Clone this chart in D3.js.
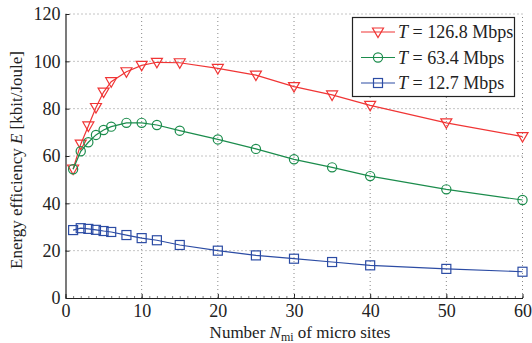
<!DOCTYPE html>
<html>
<head>
<meta charset="utf-8">
<script src="https://cdn.jsdelivr.net/npm/d3@7"></script>
<style>
  body { margin: 0; background: #fff; }
</style>
</head>
<body>
<div id="main"></div>
<script>
// number of micro sites
const sites = [1, 2, 3, 4, 5, 6, 8, 10, 12, 15, 20, 25, 30, 35, 40, 50, 60];
// energy efficiency, kbit/Joule
const eff126 = [54.5, 65, 72.7, 80.5, 87, 91.4, 95.6, 98.3, 99.6, 99.4, 97, 94.2, 89.3, 85.8, 81.4, 74, 68.2];
const eff63 = [54.4, 62, 65.8, 68.9, 71, 72.4, 74, 74, 73.1, 70.7, 67, 63, 58.6, 55.2, 51.5, 45.9, 41.4];
const eff12 = [28.7, 29.5, 29.2, 28.8, 28.3, 27.9, 26.6, 25.3, 24.4, 22.4, 20, 18, 16.6, 15.2, 13.8, 12.3, 11.1];
const seriesNames = ['126.8', '63.4', '12.7'];
const xTicks = [0, 10, 20, 30, 40, 50, 60];
const yTicks = [0, 20, 40, 60, 80, 100, 120];

const font = 'Liberation Serif';
const width = 532, height = 343;
const margin = {left: 65.5, right: 9.5, top: 14, bottom: 45};

const svg = d3.select('#main').append('svg')
    .attr('width', width)
    .attr('height', height);

const x = d3.scaleLinear().domain([0, 60]).range([margin.left, width - margin.right]);
const y = d3.scaleLinear().domain([0, 120]).range([height - margin.bottom, margin.top]);

// dotted grid
const grid = svg.append('g');
grid.selectAll('line.gx')
    .data(xTicks.slice(1))
    .enter().append('line')
    .attr('x1', d => x(d)).attr('x2', d => x(d))
    .attr('y1', y(0)).attr('y2', y(120))
    .attr('stroke', '#888').attr('stroke-width', 1)
    .attr('stroke-dasharray', '1,3');
grid.selectAll('line.gy')
    .data(yTicks.slice(1))
    .enter().append('line')
    .attr('y1', d => y(d)).attr('y2', d => y(d))
    .attr('x1', x(0)).attr('x2', x(60))
    .attr('stroke', '#888').attr('stroke-width', 1)
    .attr('stroke-dasharray', '1,3');

// axes
const xAxis = svg.append('g')
    .attr('transform', `translate(0, ${y(0)})`)
    .call(d3.axisBottom(x).tickValues(xTicks).tickSizeInner(-4).tickSizeOuter(0).tickPadding(6));
const xMinor = svg.append('g')
    .attr('transform', `translate(0, ${y(0)})`)
    .call(d3.axisBottom(x).ticks(60).tickSizeInner(-2).tickSizeOuter(0).tickFormat(''));
xMinor.select('.domain').remove();
const yAxis = svg.append('g')
    .attr('transform', `translate(${x(0)}, 0)`)
    .call(d3.axisLeft(y).tickValues(yTicks).tickSizeInner(-4).tickSizeOuter(0).tickPadding(5));

[xAxis, yAxis].forEach(g => {
    g.selectAll('text')
        .style('font-family', font)
        .style('font-size', '18px')
        .attr('fill', '#222');
    g.select('.domain').attr('stroke', '#222').attr('stroke-width', 1.2);
    g.selectAll('.tick line').attr('stroke', '#222');
});
xMinor.selectAll('.tick line').attr('stroke', '#444').attr('stroke-width', 0.7);

// series
const series = [
    {values: eff126, color: '#f03535', marker: 'tri'},
    {values: eff63, color: '#1b8c4c', marker: 'circle'},
    {values: eff12, color: '#2c4ca4', marker: 'square'}
];

const lineGenerator = d3.line()
    .x(d => x(d[0]))
    .y(d => y(d[1]));

function drawMarker(g, type, color) {
    if (type === 'tri') {
        g.append('path').attr('d', 'M-5.5,-4 L5.5,-4 L0,5.5 Z');
    } else if (type === 'circle') {
        g.append('circle').attr('r', 4.6);
    } else {
        g.append('rect').attr('x', -4.5).attr('y', -4.5).attr('width', 9).attr('height', 9);
    }
    g.selectAll('*').attr('fill', 'none').attr('stroke', color).attr('stroke-width', 1.2);
}

series.forEach(s => {
    const pts = sites.map((n, i) => [n, s.values[i]]);
    svg.append('path')
        .attr('d', lineGenerator(pts))
        .attr('fill', 'none')
        .attr('stroke', s.color)
        .attr('stroke-width', 1.2);
    svg.append('g').selectAll('g')
        .data(pts)
        .enter().append('g')
        .attr('transform', d => `translate(${x(d[0])}, ${y(d[1])})`)
        .each(function() { drawMarker(d3.select(this), s.marker, s.color); });
});

// legend
const legend = svg.append('g');
legend.append('rect')
    .attr('x', 352.5).attr('y', 17.5)
    .attr('width', 162).attr('height', 79)
    .attr('fill', '#fff').attr('stroke', '#222').attr('stroke-width', 1.2);
series.forEach((s, i) => {
    const ly = 32 + i * 25.5;
    legend.append('line')
        .attr('x1', 361).attr('x2', 395)
        .attr('y1', ly).attr('y2', ly)
        .attr('stroke', s.color).attr('stroke-width', 1.2);
    drawMarker(legend.append('g').attr('transform', `translate(378, ${ly})`), s.marker, s.color);
    const t = legend.append('text')
        .attr('x', 398).attr('y', ly + 6)
        .style('font-family', font)
        .style('font-size', '18px').attr('fill', '#222');
    t.append('tspan').style('font-style', 'italic').text('T');
    t.append('tspan').text(` = ${seriesNames[i]} Mbps`);
});

// axis labels
const xl = svg.append('text')
    .attr('x', (x(0) + x(60)) / 2 + 6).attr('y', 338)
    .attr('text-anchor', 'middle')
    .style('font-family', font)
    .style('font-size', '17px').attr('fill', '#222');
xl.append('tspan').text('Number ');
xl.append('tspan').style('font-style', 'italic').text('N');
xl.append('tspan').attr('dy', 3).style('font-size', '12px').text('mi');
xl.append('tspan').attr('dy', -3).text(' of micro sites');

const yl = svg.append('text')
    .attr('transform', `translate(22, ${(y(0) + y(120)) / 2 + 4}) rotate(-90)`)
    .attr('text-anchor', 'middle')
    .style('font-family', font)
    .style('font-size', '17px').attr('fill', '#222');
yl.append('tspan').text('Energy efficiency ');
yl.append('tspan').style('font-style', 'italic').text('E');
yl.append('tspan').text(' [kbit/Joule]');
</script>
</body>
</html>
